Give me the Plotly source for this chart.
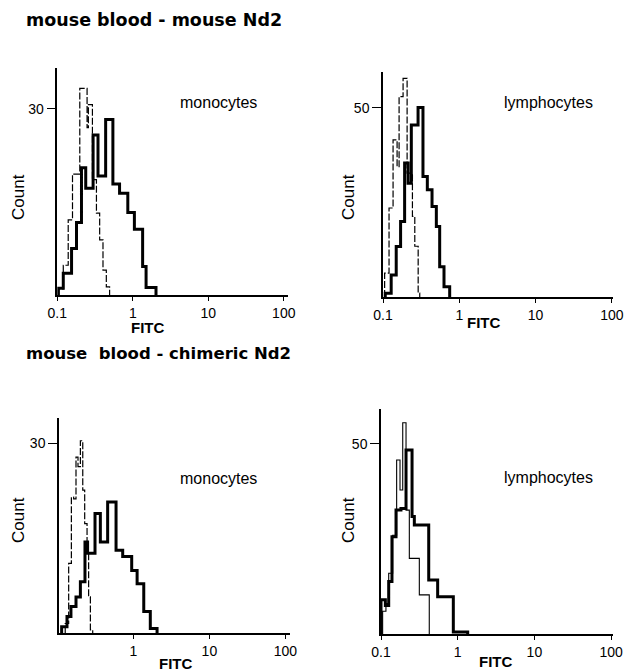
import plotly.graph_objects as go

# ---------------- data ----------------
# Panel A: mouse blood - mouse Nd2, monocytes
mono1_thick_edges = [0.102, 0.120, 0.1545, 0.1795, 0.209, 0.238, 0.298, 0.346, 0.437, 0.545,
                     0.668, 0.859, 1.05, 1.35, 1.50, 2.03]
mono1_thick_counts = [1.1, 3.5, 7.5, 11.7, 20.5, 17.2, 25.8, 19.2, 28.3, 17.9,
                      16.4, 13.3, 10.6, 4.6, 1.2]
mono1_dash_edges = [0.106, 0.120, 0.1395, 0.159, 0.1986, 0.248, 0.258, 0.292, 0.330, 0.364,
                    0.403, 0.446, 0.493]
mono1_dash_counts = [1.0, 4.8, 12.1, 19.5, 33.3, 27.0, 30.7, 18.6, 13.2, 8.9, 4.0, 1.3]

# Panel B: mouse blood - mouse Nd2, lymphocytes
lymph1_thick_edges = [0.107, 0.128, 0.149, 0.170, 0.192, 0.213, 0.235, 0.288, 0.334, 0.381,
                      0.439, 0.500, 0.553, 0.630, 0.748]
lymph1_thick_counts = [1.0, 5.8, 13.3, 19.9, 35.4, 30.0, 45.4, 50.0, 31.8, 28.3,
                       23.9, 18.6, 8.0, 2.7]
lymph1_dash_edges = [0.105, 0.120, 0.1355, 0.153, 0.1625, 0.1833, 0.207, 0.243, 0.261, 0.289, 0.303]
lymph1_dash_counts = [6.3, 23.5, 41.5, 34.4, 52.9, 57.7, 32.7, 21.3, 13.4, 1.0]

# Panel C: mouse blood - chimeric Nd2, monocytes
mono2_thick_edges = [0.114, 0.134, 0.151, 0.176, 0.201, 0.231, 0.250, 0.313, 0.368, 0.459,
                     0.592, 0.724, 0.951, 1.12, 1.37, 1.67, 2.05]
mono2_thick_counts = [1.0, 2.6, 4.2, 5.7, 8.1, 14.4, 12.6, 18.9, 14.4, 20.7,
                      13.1, 12.1, 9.9, 7.8, 3.4, 0.7]
mono2_dash_edges = [0.127, 0.141, 0.153, 0.164, 0.176, 0.187, 0.201, 0.216, 0.229, 0.246,
                    0.258, 0.272, 0.292]
mono2_dash_counts = [1.5, 11.0, 21.5, 21.2, 27.8, 26.3, 30.4, 22.6, 17.3, 12.6, 5.7, 0.5]

# Panel D: mouse blood - chimeric Nd2, lymphocytes
lymph2_thick_edges = [0.100, 0.114, 0.126, 0.139, 0.157, 0.182, 0.212, 0.254, 0.272, 0.419,
                      0.548, 0.877, 1.35]
lymph2_thick_counts = [9.0, 7.5, 13.8, 25.6, 32.6, 33.0, 48.4, 30.9, 28.7, 14.2, 9.8, 0.5]
lymph2_thin_edges = [0.105, 0.116, 0.126, 0.142, 0.160, 0.177, 0.192, 0.212, 0.234, 0.316, 0.426]
lymph2_thin_counts = [6.0, 8.0, 16.0, 26.0, 45.8, 37.9, 55.6, 32.6, 19.9, 10.3]

tick_vals = [0.1, 1, 10, 100]
tick_text = ["0.1", "1", "10", "100"]
titles = ["mouse blood - mouse Nd2", "mouse  blood - chimeric Nd2"]
cell_labels = ["monocytes", "lymphocytes", "monocytes", "lymphocytes"]
y_ticks = [30, 50, 30, 50]

# ---------------- figure ----------------
# the page body has an 8px default margin: shift and shrink the figure to compensate
OFF = 8
W, H = 637 - OFF, 671 - OFF


def fx(px):
    return (px - OFF) / W


def fy(py):
    return 1 - (py - OFF) / H


fig = go.Figure()


def step_xy(edges, counts):
    x = [edges[0]] + list(edges)
    y = [0] + list(counts) + [0]
    return x, y


# panel geometry in window pixels: (x_left, x_right, log_left, log_right, y_top, y_bottom, ymax)
panels = [
    (57.3, 288, -1.0, 2.056, 68, 295, 36.6),
    (383, 613, -1.0, 2.014, 72, 297, 59.4),
    (59, 290, -0.978, 2.06, 418, 633, 34.0),
    (381, 613, -1.0, 2.025, 409, 634, 59.2),
]

series = [
    [(mono1_dash_edges, mono1_dash_counts, "dash"), (mono1_thick_edges, mono1_thick_counts, "thick")],
    [(lymph1_dash_edges, lymph1_dash_counts, "dash"), (lymph1_thick_edges, lymph1_thick_counts, "thick")],
    [(mono2_dash_edges, mono2_dash_counts, "dash"), (mono2_thick_edges, mono2_thick_counts, "thick")],
    [(lymph2_thin_edges, lymph2_thin_counts, "thin"), (lymph2_thick_edges, lymph2_thick_counts, "thick")],
]

FONT = "Liberation Sans, Arial, sans-serif"

for i, (xl, xr, l0, l1, yt, yb, ymax) in enumerate(panels):
    n = "" if i == 0 else str(i + 1)
    xa, ya = "x" + n, "y" + n
    for edges, counts, style in series[i]:
        x, y = step_xy(edges, counts)
        if style == "thick":
            line = dict(color="black", width=3, shape="hv")
        elif style == "dash":
            line = dict(color="black", width=1.2, shape="hv", dash="7px,2px")
        else:
            line = dict(color="black", width=1.1, shape="hv")
        fig.add_trace(go.Scatter(x=x, y=y, mode="lines", line=line, xaxis=xa, yaxis=ya,
                                 showlegend=False, hoverinfo="skip"))
    fig.layout["xaxis" + n] = dict(
        type="log", range=[l0, l1], domain=[fx(xl), fx(xr)], anchor=ya, automargin=False,
        showline=True, linecolor="black", linewidth=1.5, showgrid=False, zeroline=False,
        ticks="outside", ticklen=4, tickwidth=1.2, tickcolor="black",
        tickvals=tick_vals, ticktext=tick_text,
        tickfont=dict(family=FONT, size=14, color="black"),
    )
    fig.layout["yaxis" + n] = dict(
        range=[0, ymax], domain=[fy(yb), fy(yt)], anchor=xa, automargin=False,
        showline=True, linecolor="black", linewidth=1.5, showgrid=False, zeroline=False,
        ticks="outside", ticklen=9, tickwidth=1.2, tickcolor="black",
        tickvals=[y_ticks[i]], ticktext=[str(y_ticks[i])],
        tickfont=dict(family=FONT, size=14, color="black"),
    )

annotations = []
# titles
for txt, yc, sz in zip(titles, [20, 353], [17.5, 16.5]):
    annotations.append(dict(text=txt, x=fx(24), y=fy(yc), xref="paper", yref="paper",
                            xanchor="left", yanchor="middle", showarrow=False,
                            font=dict(family="DejaVu Sans", size=sz, color="black", weight="bold")))
# cell-type labels
for txt, (xc, yc) in zip(cell_labels, [(218, 103), (548, 103), (218, 478), (548, 477)]):
    annotations.append(dict(text=txt, x=fx(xc), y=fy(yc), xref="paper", yref="paper",
                            xanchor="center", yanchor="middle", showarrow=False,
                            font=dict(family=FONT, size=16, color="black")))
# Count labels
for xc, yc in [(18, 197), (348, 197), (18, 520), (348, 520)]:
    annotations.append(dict(text="Count", x=fx(xc), y=fy(yc), xref="paper", yref="paper",
                            xanchor="center", yanchor="middle", showarrow=False, textangle=-90,
                            font=dict(family=FONT, size=17, color="black")))
# FITC labels
for xc, yc in [(147, 327), (483, 322), (175, 663), (495, 661)]:
    annotations.append(dict(text="FITC", x=fx(xc), y=fy(yc), xref="paper", yref="paper",
                            xanchor="center", yanchor="middle", showarrow=False,
                            font=dict(family=FONT, size=15, color="black", weight="bold")))

fig.update_layout(width=W, height=H,
                  margin=dict(l=0, r=0, t=0, b=0, pad=0, autoexpand=False),
                  paper_bgcolor="white", plot_bgcolor="white", annotations=annotations)

fig.write_html("out.html")
